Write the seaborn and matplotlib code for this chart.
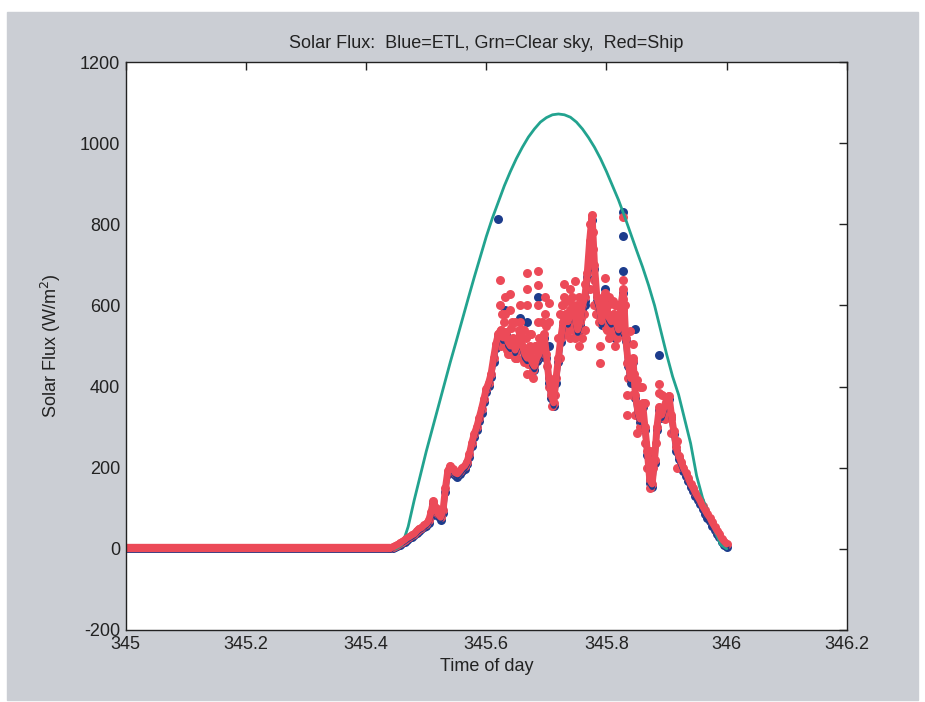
import numpy as np
import pandas as pd
import matplotlib
matplotlib.use('Agg')
import matplotlib.pyplot as plt
import seaborn as sns
from matplotlib.patches import Rectangle

# night-time (flux ~ 0) samples, drawn as a continuous band
night_time = [345.0, 345.1, 345.2, 345.3, 345.4, 345.44]
night_ship = [3, 3, 3, 3, 3, 3]
night_etl = [0, 0, 0, 0, 0, 0]

# daytime samples every 0.004 day starting at 345.44
day_start = 345.44
day_step = 0.004
ship_day = [3, 4, 7, 10, 14, 18, 22, 27, 30, 34, 37, 44, 50, 52, 58, 62,
            70, 90, 118, 100, 85, 78, 95, 150, 193, 205, 198, 188, 185, 192,
            200, 205, 215, 235, 262, 284, 300, 322, 345, 370, 395, 410, 432,
            470, 505, 530,
            540, 520, 535, 510, 500, 520, 490, 510, 530, 500, 480, 470, 500,
            460, 450, 470, 480, 510, 530, 480, 420, 380, 360, 420, 470, 520,
            560, 580, 560, 590, 600, 570, 540, 560, 600, 620, 680, 760, 822,
            700, 620, 600, 560, 620, 590, 570, 560, 580, 560, 540, 600, 640,
            520, 460, 420, 470, 380, 340, 320, 360, 300, 240, 170, 160, 220,
            300, 350, 330, 350, 370, 378, 330, 290, 250, 230, 215, 200, 188,
            175, 160, 150, 138, 128, 118, 105, 95, 85, 77, 65, 55, 45, 37, 25,
            18, 12]
etl_day = [1, 2, 4, 7, 10, 14, 18, 22, 26, 29, 33, 39, 45, 48, 53, 57,
           64, 82, 110, 96, 80, 72, 88, 140, 185, 198, 192, 182, 178, 185,
           193, 198, 208, 226, 254, 276, 292, 314, 336, 362, 386, 402, 424,
           460, 496, 522,
           532, 512, 528, 500, 492, 512, 482, 500, 520, 492, 470, 462, 490,
           452, 442, 462, 470, 500, 520, 470, 410, 372, 352, 410, 460, 510,
           550, 570, 552, 580, 590, 562, 532, 552, 590, 610, 670, 750, 810,
           690, 610, 590, 552, 610, 580, 562, 552, 570, 552, 532, 590, 630,
           512, 450, 410, 460, 372, 332, 312, 350, 292, 232, 162, 152, 212,
           292, 342, 322, 342, 362, 370, 322, 282, 242, 222, 207, 192, 180,
           167, 152, 142, 130, 120, 110, 97, 87, 77, 69, 57, 47, 37, 29, 17,
           10, 4]

# extra samples forming the vertical streaks (cloud flicker)
ship_spike_time = [345.622, 345.622, 345.631, 345.631, 345.639, 345.639, 345.639,
                   345.647, 345.647, 345.656, 345.656, 345.667, 345.667, 345.667,
                   345.667, 345.677, 345.677, 345.686, 345.686, 345.686, 345.686,
                   345.697, 345.697, 345.705, 345.705, 345.705, 345.710, 345.710,
                   345.722, 345.730, 345.730, 345.739, 345.739, 345.747, 345.747,
                   345.755, 345.755, 345.764, 345.764, 345.772, 345.772, 345.772,
                   345.777, 345.777, 345.780, 345.780, 345.789, 345.789, 345.797,
                   345.797, 345.805, 345.805, 345.814, 345.814, 345.827, 345.827,
                   345.827, 345.827, 345.834, 345.834, 345.834, 345.839, 345.844,
                   345.844, 345.850, 345.850, 345.855, 345.855, 345.864, 345.864,
                   345.872, 345.872, 345.877, 345.887, 345.887, 345.902, 345.902,
                   345.907, 345.907, 345.917, 345.917,
                   345.626, 345.634, 345.643, 345.651, 345.659, 345.663, 345.672,
                   345.681, 345.692, 345.701, 345.715, 345.726, 345.734, 345.743,
                   345.751, 345.759, 345.768, 345.774, 345.785, 345.793, 345.801,
                   345.810, 345.818, 345.823, 345.831, 345.842, 345.848, 345.859,
                   345.868, 345.882, 345.893, 345.898,
                   345.624, 345.629, 345.636, 345.641, 345.645, 345.650, 345.654,
                   345.658, 345.662, 345.666, 345.670, 345.674, 345.679, 345.683,
                   345.688, 345.694, 345.699, 345.719, 345.723, 345.728, 345.732,
                   345.737, 345.741, 345.745, 345.750, 345.754, 345.758, 345.762,
                   345.783, 345.787, 345.791, 345.795, 345.799, 345.803, 345.807,
                   345.812, 345.816, 345.820, 345.836, 345.846]
ship_spike_flux = [662, 600, 620, 580, 627, 590, 481,
                   560, 470, 600, 560, 679, 640, 600,
                   432, 440, 420, 686, 650, 600, 560,
                   620, 580, 605, 560, 400, 353, 380,
                   470, 654, 620, 640, 520, 660, 520,
                   620, 500, 654, 540, 800, 700, 640,
                   780, 740, 662, 600, 457, 500, 667,
                   630, 620, 520, 600, 500, 817, 662,
                   617, 590, 457, 380, 330, 538, 506,
                   463, 415, 285, 400, 300, 360, 260,
                   242, 150, 200, 407, 383, 373, 330,
                   323, 285, 267, 200,
                   580, 490, 560, 470, 540, 460, 530,
                   500, 560, 450, 380, 600, 540, 620,
                   600, 520, 640, 720, 580, 600, 540,
                   610, 520, 560, 600, 380, 330, 400,
                   200, 260, 380, 320,
                   500, 560, 480, 545, 500, 470, 540,
                   490, 540, 520, 455, 530, 490, 500,
                   520, 490, 550, 520, 580, 600, 530,
                   610, 560, 540, 580, 590, 570, 580,
                   580, 560, 600, 580, 545, 600, 530,
                   545, 600, 580, 420, 430]
etl_spike_time = [345.619, 345.631, 345.656, 345.667, 345.686, 345.705, 345.739,
                  345.764, 345.797, 345.814, 345.827, 345.827, 345.827, 345.847,
                  345.855, 345.872, 345.887]
etl_spike_flux = [812, 590, 570, 560, 620, 500, 560,
                  600, 640, 520, 830, 770, 684, 543,
                  350, 200, 479]

# clear-sky model
clear_time = [345.0, 345.45, 345.46, 345.47, 345.48, 345.49, 345.50, 345.51,
              345.52, 345.53, 345.54, 345.55, 345.56, 345.57, 345.58, 345.59,
              345.60, 345.61, 345.62, 345.63, 345.64, 345.65, 345.66, 345.67,
              345.68, 345.69, 345.70, 345.71, 345.72, 345.73, 345.74, 345.75,
              345.76, 345.77, 345.78, 345.79, 345.80, 345.81, 345.82, 345.83,
              345.84, 345.85, 345.86, 345.87, 345.88, 345.89, 345.90, 345.91,
              345.92, 345.93, 345.94, 345.95, 345.96, 345.97, 345.98, 345.99,
              346.00]
clear_flux = [0, 0, 10, 55, 120, 180, 240, 295,
              350, 405, 460, 512, 565, 618, 670, 720,
              770, 815, 855, 895, 930, 962, 990, 1015,
              1035, 1052, 1063, 1070, 1072, 1070, 1064, 1052,
              1035, 1014, 990, 962, 930, 895, 860, 820,
              778, 736, 695, 650, 600, 540, 480, 425,
              380, 320, 260, 180, 125, 85, 45, 10,
              0]

x_ticks = [345, 345.2, 345.4, 345.6, 345.8, 346, 346.2]
x_labels = ['345', '345.2', '345.4', '345.6', '345.8', '346', '346.2']
y_ticks = [-200, 0, 200, 400, 600, 800, 1000, 1200]

day_time = np.round(day_start + day_step * np.arange(len(ship_day)), 3)
df_ship = pd.DataFrame({'time': np.concatenate([day_time, ship_spike_time]),
                        'flux': np.concatenate([ship_day, ship_spike_flux])})
df_etl = pd.DataFrame({'time': np.concatenate([day_time[:len(etl_day)], etl_spike_time]),
                       'flux': np.concatenate([etl_day, etl_spike_flux])})

sns.set_style('white')
plt.rcParams['font.family'] = ['Liberation Sans', 'DejaVu Sans']
plt.rcParams['axes.unicode_minus'] = False

blue = '#1c3c8c'
red = '#ec4a58'
green = '#22a38f'

fig = plt.figure(figsize=(9.25, 7.02), dpi=100, facecolor='white')
fig.patches.append(Rectangle((7 / 925, 2 / 702), 911 / 925, 688 / 702,
                             transform=fig.transFigure, color='#cbced4', zorder=-10))
ax = fig.add_axes([0.136, 0.1026, 0.7795, 0.809])
ax.set_facecolor('white')

# ETL (blue) underneath
sns.lineplot(x=night_time, y=night_etl, color=blue, linewidth=5, ax=ax)
sns.lineplot(x=day_time[:len(etl_day)], y=etl_day, color=blue, linewidth=4, ax=ax)
sns.scatterplot(data=df_etl, x='time', y='flux', color=blue, s=42, linewidth=0, ax=ax)
# clear sky
sns.lineplot(x=clear_time, y=clear_flux, color=green, linewidth=2, ax=ax)
# ship (red) on top
sns.lineplot(x=night_time, y=night_ship, color=red, linewidth=6, ax=ax)
sns.lineplot(x=day_time, y=ship_day, color=red, linewidth=5, ax=ax)
sns.scatterplot(data=df_ship, x='time', y='flux', color=red, s=42, linewidth=0, ax=ax)

ax.set_xlim(345, 346.2)
ax.set_ylim(-200, 1200)
ax.set_xticks(x_ticks)
ax.set_xticklabels(x_labels)
ax.set_yticks(y_ticks)
ax.tick_params(direction='in', top=True, right=True, length=6, width=1,
               labelsize=13, colors='#222222', pad=4)
for s in ax.spines.values():
    s.set_color('#222222')
    s.set_linewidth(1)

ax.set_title('Solar Flux:  Blue=ETL, Grn=Clear sky,  Red=Ship', fontsize=13,
             color='#222222', pad=10)
ax.set_xlabel('Time of day', fontsize=13, color='#222222', labelpad=4)
ax.set_ylabel('Solar Flux (W/m$^2$)', fontsize=13, color='#222222', labelpad=12)

fig.savefig('out.png', dpi=100, facecolor=fig.get_facecolor())
